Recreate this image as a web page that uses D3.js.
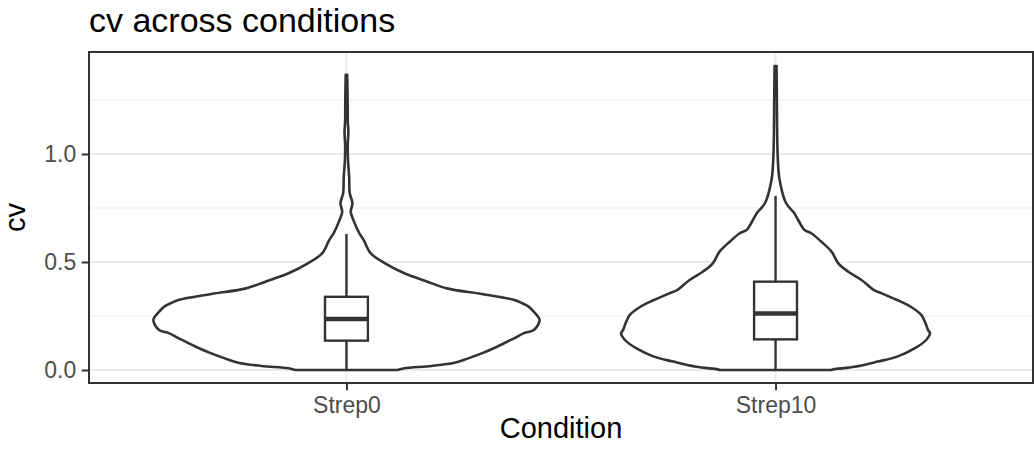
<!DOCTYPE html>
<html>
<head>
<meta charset="utf-8">
<script src="https://cdn.jsdelivr.net/npm/d3@7"></script>
<style>
    body { margin: 0; background: #ffffff; }
    text { font-family: "Liberation Sans", Arial, sans-serif; }
</style>
</head>
<body>
<div id="chart-div"></div>
<script>
// categories
const conditions = ["Strep0", "Strep10"];

// violin outlines: cv value and relative half width (1 = widest violin)
const strep0Cv = [0, 0.008, 0.019, 0.034, 0.054, 0.077, 0.108, 0.148, 0.171, 0.185, 0.231, 0.27, 0.296, 0.309, 0.324, 0.352, 0.378, 0.409, 0.448, 0.494, 0.54, 0.6, 0.634, 0.694, 0.733, 0.772, 0.819, 0.895, 0.972, 1.05, 1.1, 1.15, 1.25, 1.366];
const strep0Width = [0.265, 0.3, 0.44, 0.56, 0.63, 0.7, 0.78, 0.87, 0.92, 0.97, 1.0, 0.97, 0.94, 0.91, 0.87, 0.7, 0.52, 0.42, 0.3, 0.2, 0.126, 0.09, 0.066, 0.036, 0.022, 0.031, 0.017, 0.014, 0.008, 0.007, 0.01, 0.007, 0.006, 0.004];
const strep10Cv = [0, 0.003, 0.015, 0.039, 0.062, 0.1, 0.139, 0.17, 0.185, 0.22, 0.255, 0.293, 0.324, 0.355, 0.37, 0.417, 0.455, 0.494, 0.548, 0.594, 0.633, 0.648, 0.69, 0.725, 0.772, 0.88, 0.972, 1.126, 1.25, 1.407];
const strep10Width = [0.29, 0.3, 0.41, 0.53, 0.63, 0.72, 0.78, 0.8, 0.79, 0.775, 0.755, 0.7, 0.63, 0.55, 0.51, 0.445, 0.377, 0.325, 0.29, 0.237, 0.185, 0.15, 0.12, 0.098, 0.055, 0.021, 0.012, 0.008, 0.007, 0.005];

// boxplot stats per condition
const whiskerLow = [0, 0];
const quartile1 = [0.136, 0.142];
const medians = [0.236, 0.262];
const quartile3 = [0.339, 0.409];
const whiskerHigh = [0.63, 0.806];

// axis ticks
const yMajorTicks = [0, 0.5, 1.0];
const yMinorTicks = [0.25, 0.75, 1.25];
const yTickLabels = ["0.0", "0.5", "1.0"];

const WIDTH = 1034;
const HEIGHT = 456;
const PANEL_LEFT = 89;
const PANEL_RIGHT = 1033;
const PANEL_TOP = 52;
const PANEL_BOTTOM = 383;
const INK = "#333333";
const GRID = "#ebebeb";

let svg = d3.select("#chart-div")
    .append("svg")
    .attr("width", WIDTH)
    .attr("height", HEIGHT);

let xScale = d3.scalePoint()
    .domain(conditions)
    .range([PANEL_LEFT, PANEL_RIGHT])
    .padding(0.6);

let yScale = d3.scaleLinear()
    .domain([-0.06, 1.472])
    .range([PANEL_BOTTOM, PANEL_TOP]);

// half width of the widest violin (0.9 of a category step)
let violinHalf = xScale.step() * 0.9 / 2;
let boxHalf = xScale.step() * 0.1 / 2;

// Grid lines
svg.append("g")
    .selectAll("line")
    .data(yMinorTicks)
    .enter()
    .append("line")
    .attr("x1", PANEL_LEFT)
    .attr("x2", PANEL_RIGHT)
    .attr("y1", d => yScale(d))
    .attr("y2", d => yScale(d))
    .attr("stroke", GRID)
    .attr("stroke-width", 1);

svg.append("g")
    .selectAll("line")
    .data(yMajorTicks)
    .enter()
    .append("line")
    .attr("x1", PANEL_LEFT)
    .attr("x2", PANEL_RIGHT)
    .attr("y1", d => yScale(d))
    .attr("y2", d => yScale(d))
    .attr("stroke", GRID)
    .attr("stroke-width", 2);

svg.append("g")
    .selectAll("line")
    .data(conditions)
    .enter()
    .append("line")
    .attr("x1", d => xScale(d))
    .attr("x2", d => xScale(d))
    .attr("y1", PANEL_TOP)
    .attr("y2", PANEL_BOTTOM)
    .attr("stroke", GRID)
    .attr("stroke-width", 2);

// Violins
let profiles = [
    { name: "Strep0", cv: strep0Cv, width: strep0Width },
    { name: "Strep10", cv: strep10Cv, width: strep10Width }
];

let line = d3.line()
    .x(d => d[0])
    .y(d => d[1])
    .curve(d3.curveCatmullRom.alpha(0.5));

profiles.forEach((p) => {
    let cx = xScale(p.name);
    let right = p.cv.map((v, i) => [cx + p.width[i] * violinHalf, yScale(v)]);
    let left = p.cv.map((v, i) => [cx - p.width[i] * violinHalf, yScale(v)]).reverse();
    let pathData = line(right) + "L" + line(left).slice(1) + "Z";
    svg.append("path")
        .attr("d", pathData)
        .attr("fill", "#ffffff")
        .attr("stroke", INK)
        .attr("stroke-width", 2.6)
        .attr("stroke-linejoin", "round");
});

// Boxplots
let boxes = svg.append("g")
    .selectAll("g")
    .data(conditions)
    .enter()
    .append("g");

boxes.append("line")
    .attr("x1", d => xScale(d))
    .attr("x2", d => xScale(d))
    .attr("y1", (d, i) => yScale(quartile3[i]))
    .attr("y2", (d, i) => yScale(whiskerHigh[i]))
    .attr("stroke", INK)
    .attr("stroke-width", 2.4);

boxes.append("line")
    .attr("x1", d => xScale(d))
    .attr("x2", d => xScale(d))
    .attr("y1", (d, i) => yScale(quartile1[i]))
    .attr("y2", (d, i) => yScale(whiskerLow[i]))
    .attr("stroke", INK)
    .attr("stroke-width", 2.4);

boxes.append("rect")
    .attr("x", d => xScale(d) - boxHalf)
    .attr("y", (d, i) => yScale(quartile3[i]))
    .attr("width", boxHalf * 2)
    .attr("height", (d, i) => yScale(quartile1[i]) - yScale(quartile3[i]))
    .attr("fill", "#ffffff")
    .attr("stroke", INK)
    .attr("stroke-width", 2.4);

boxes.append("line")
    .attr("x1", d => xScale(d) - boxHalf)
    .attr("x2", d => xScale(d) + boxHalf)
    .attr("y1", (d, i) => yScale(medians[i]))
    .attr("y2", (d, i) => yScale(medians[i]))
    .attr("stroke", INK)
    .attr("stroke-width", 4.6);

// Panel border
svg.append("rect")
    .attr("x", PANEL_LEFT)
    .attr("y", PANEL_TOP)
    .attr("width", PANEL_RIGHT - PANEL_LEFT)
    .attr("height", PANEL_BOTTOM - PANEL_TOP)
    .attr("fill", "none")
    .attr("stroke", INK)
    .attr("stroke-width", 2);

// Y axis
let yAxis = svg.append("g")
    .attr("transform", "translate(" + PANEL_LEFT + ",0)")
    .call(d3.axisLeft(yScale)
        .tickValues(yMajorTicks)
        .tickFormat((d, i) => yTickLabels[i])
        .tickSize(7.3)
        .tickPadding(5.5));
yAxis.select(".domain").remove();
yAxis.selectAll("line").attr("stroke", INK).attr("stroke-width", 2);
yAxis.selectAll("text")
    .attr("fill", "#4d4d4d")
    .style("font-size", "23px");

// X axis
let xAxis = svg.append("g")
    .attr("transform", "translate(0," + PANEL_BOTTOM + ")")
    .call(d3.axisBottom(xScale)
        .tickSize(7.3)
        .tickPadding(5.5));
xAxis.select(".domain").remove();
xAxis.selectAll("line").attr("stroke", INK).attr("stroke-width", 2);
xAxis.selectAll("text")
    .attr("fill", "#4d4d4d")
    .attr("dy", null)
    .attr("y", 30)
    .style("font-size", "23px");

// Axis titles
svg.append("text")
    .attr("x", (PANEL_LEFT + PANEL_RIGHT) / 2)
    .attr("y", 438)
    .attr("text-anchor", "middle")
    .style("font-size", "29px")
    .text("Condition");

svg.append("text")
    .attr("transform", "translate(25," + (PANEL_TOP + PANEL_BOTTOM) / 2 + ")rotate(-90)")
    .attr("text-anchor", "middle")
    .style("font-size", "29px")
    .text("cv");

// Title
svg.append("text")
    .attr("x", PANEL_LEFT)
    .attr("y", 32)
    .style("font-size", "34px")
    .text("cv across conditions");
</script>
</body>
</html>
